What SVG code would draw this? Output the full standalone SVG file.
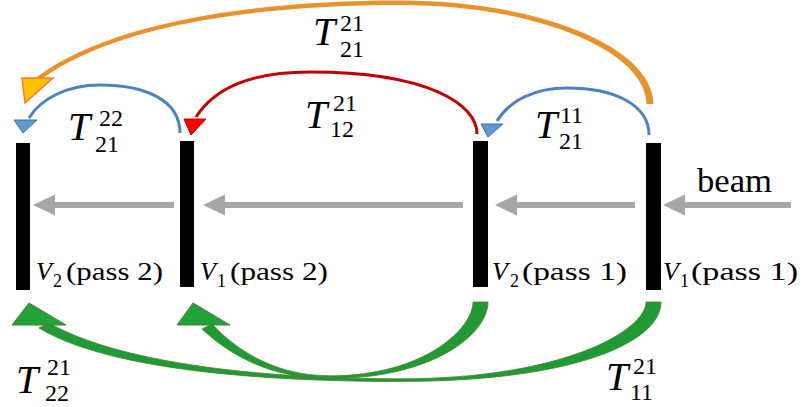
<svg xmlns="http://www.w3.org/2000/svg" width="804" height="407" viewBox="0 0 804 407">
<style>
.bar{fill:#000}
.lbl{fill:#000}
.it{font-style:italic}
.beamln{stroke:#A6A6A6;stroke-width:6;fill:none}
.blue{stroke:#4F81BD;stroke-width:3;fill:none}
.bluehead{fill:#5B9BD5;stroke:#41719C;stroke-width:1}
.red{stroke:#C00000;stroke-width:3;fill:none}
.redhead{fill:#FF0000;stroke:#C00000;stroke-width:1}
.orange{fill:#E8922E;stroke:none}
.orangehead{fill:#FFC000;stroke:#ED7D31;stroke-width:1.5}
.green{fill:#1F9A35;stroke:#4C7D2C;stroke-width:0.8}
.greenhead{fill:#22A33A;stroke:#4C7D2C;stroke-width:1}
</style>
<defs>
<marker id="gray" markerUnits="userSpaceOnUse" markerWidth="22" markerHeight="22" viewBox="0 0 21 20" refX="0" refY="10" orient="auto">
<path d="M0,0 L21,10 L0,20 Z" fill="#A6A6A6"/>
</marker>
</defs>
<rect width="804" height="407" fill="#fff"/>

<g id="connectors">
<path class="beamln" d="M791,205 L685,205" marker-end="url(#gray)"/>
<path class="beamln" d="M635,205 L517,205" marker-end="url(#gray)"/>
<path class="beamln" d="M463,205 L225,205" marker-end="url(#gray)"/>
<path class="beamln" d="M174,205 L55,205" marker-end="url(#gray)"/>
<path class="orange" d="M653.5,104 C653.5,48 541,0.5 400,0.5 C250,0.5 109,23 37,77 L40,80 C111,27 250,5 400,5 C539,5 646.5,52 646.5,104 Z"/>
<polygon class="orangehead" points="22,78 53,78 25,103"/>
<path class="blue" d="M180,133 C180,100 145,85 100,85 C65,85 40,100 29,118"/>
<polygon class="bluehead" points="14,120 37,120 23,133"/>
<path class="red" d="M477,134 C477,105 430,72 310,72 C250,72 215,88 196,117"/>
<polygon class="redhead" points="184,119 206,119 191,135"/>
<path class="blue" d="M649,135 C649,105 615,88 567,88 C535,88 510,100 497,121"/>
<polygon class="bluehead" points="481,124 503,124 488,137"/>
<path class="green" d="M661,302 C661,342 575,381.5 400,381.5 C250,381.5 105,368 39,328 L49,323 C115,361 250,378.8 400,378.8 C565,378.8 646,330 646,302 Z"/>
<polygon class="greenhead" points="29,303 66,325 12,325"/>
<path class="green" d="M488,302 C488,333 435,378.5 330,378.5 C273,378.5 232,357 202,329 L212,324 C238,352 277,375.8 330,375.8 C425,375.8 473,328 473,302 Z"/>
<polygon class="greenhead" points="193,303 230,325 177,325"/>
</g>

<g id="v2pass2">
<rect class="bar" x="16" y="143" width="14" height="147"/>
<text class="lbl" font-family="'Liberation Serif', 'Times New Roman', serif" font-size="26"><tspan class="it" x="36" y="280">V</tspan><tspan x="53" y="287" font-size="18">2</tspan><tspan x="66" y="280" textLength="97" lengthAdjust="spacingAndGlyphs">(pass 2)</tspan></text>
</g>
<g id="v1pass2">
<rect class="bar" x="180" y="141" width="14" height="146"/>
<text class="lbl" font-family="'Liberation Serif', 'Times New Roman', serif" font-size="26"><tspan class="it" x="200" y="280">V</tspan><tspan x="217" y="287" font-size="18">1</tspan><tspan x="230" y="280" textLength="98" lengthAdjust="spacingAndGlyphs">(pass 2)</tspan></text>
</g>
<g id="v2pass1">
<rect class="bar" x="473" y="141" width="15" height="146"/>
<text class="lbl" font-family="'Liberation Serif', 'Times New Roman', serif" font-size="26"><tspan class="it" x="492" y="280">V</tspan><tspan x="510" y="287" font-size="18">2</tspan><tspan x="522" y="280" textLength="105" lengthAdjust="spacingAndGlyphs">(pass 1)</tspan></text>
</g>
<g id="v1pass1">
<rect class="bar" x="646" y="143" width="15" height="147"/>
<text class="lbl" font-family="'Liberation Serif', 'Times New Roman', serif" font-size="26"><tspan class="it" x="663" y="280">V</tspan><tspan x="680" y="287" font-size="18">1</tspan><tspan x="691" y="280" textLength="107" lengthAdjust="spacingAndGlyphs">(pass 1)</tspan></text>
</g>
<g id="beam">
<text class="lbl" font-family="'Liberation Serif', 'Times New Roman', serif" x="697" y="192" font-size="34" textLength="75" lengthAdjust="spacingAndGlyphs">beam</text>
</g>

<g id="labels" font-family="'Liberation Serif', 'Times New Roman', serif">
<text id="t21_21_top" class="lbl" font-size="24"><tspan class="it" x="313" y="45" font-size="40">T</tspan><tspan x="340" y="31">21</tspan><tspan x="340" y="57">21</tspan></text>
<text id="t22_21" class="lbl" font-size="24"><tspan class="it" x="68" y="140" font-size="40">T</tspan><tspan x="99" y="126">22</tspan><tspan x="95" y="152">21</tspan></text>
<text id="t21_12" class="lbl" font-size="24"><tspan class="it" x="305" y="128" font-size="40">T</tspan><tspan x="333" y="111">21</tspan><tspan x="330" y="137">12</tspan></text>
<text id="t11_21" class="lbl" font-size="24"><tspan class="it" x="535" y="138" font-size="40">T</tspan><tspan x="560" y="123">11</tspan><tspan x="559" y="149">21</tspan></text>
<text id="t21_22" class="lbl" font-size="24"><tspan class="it" x="16" y="393" font-size="40">T</tspan><tspan x="47" y="375">21</tspan><tspan x="45" y="401">22</tspan></text>
<text id="t21_11" class="lbl" font-size="24"><tspan class="it" x="606" y="390" font-size="40">T</tspan><tspan x="633" y="374">21</tspan><tspan x="630" y="400">11</tspan></text>
</g>
</svg>
